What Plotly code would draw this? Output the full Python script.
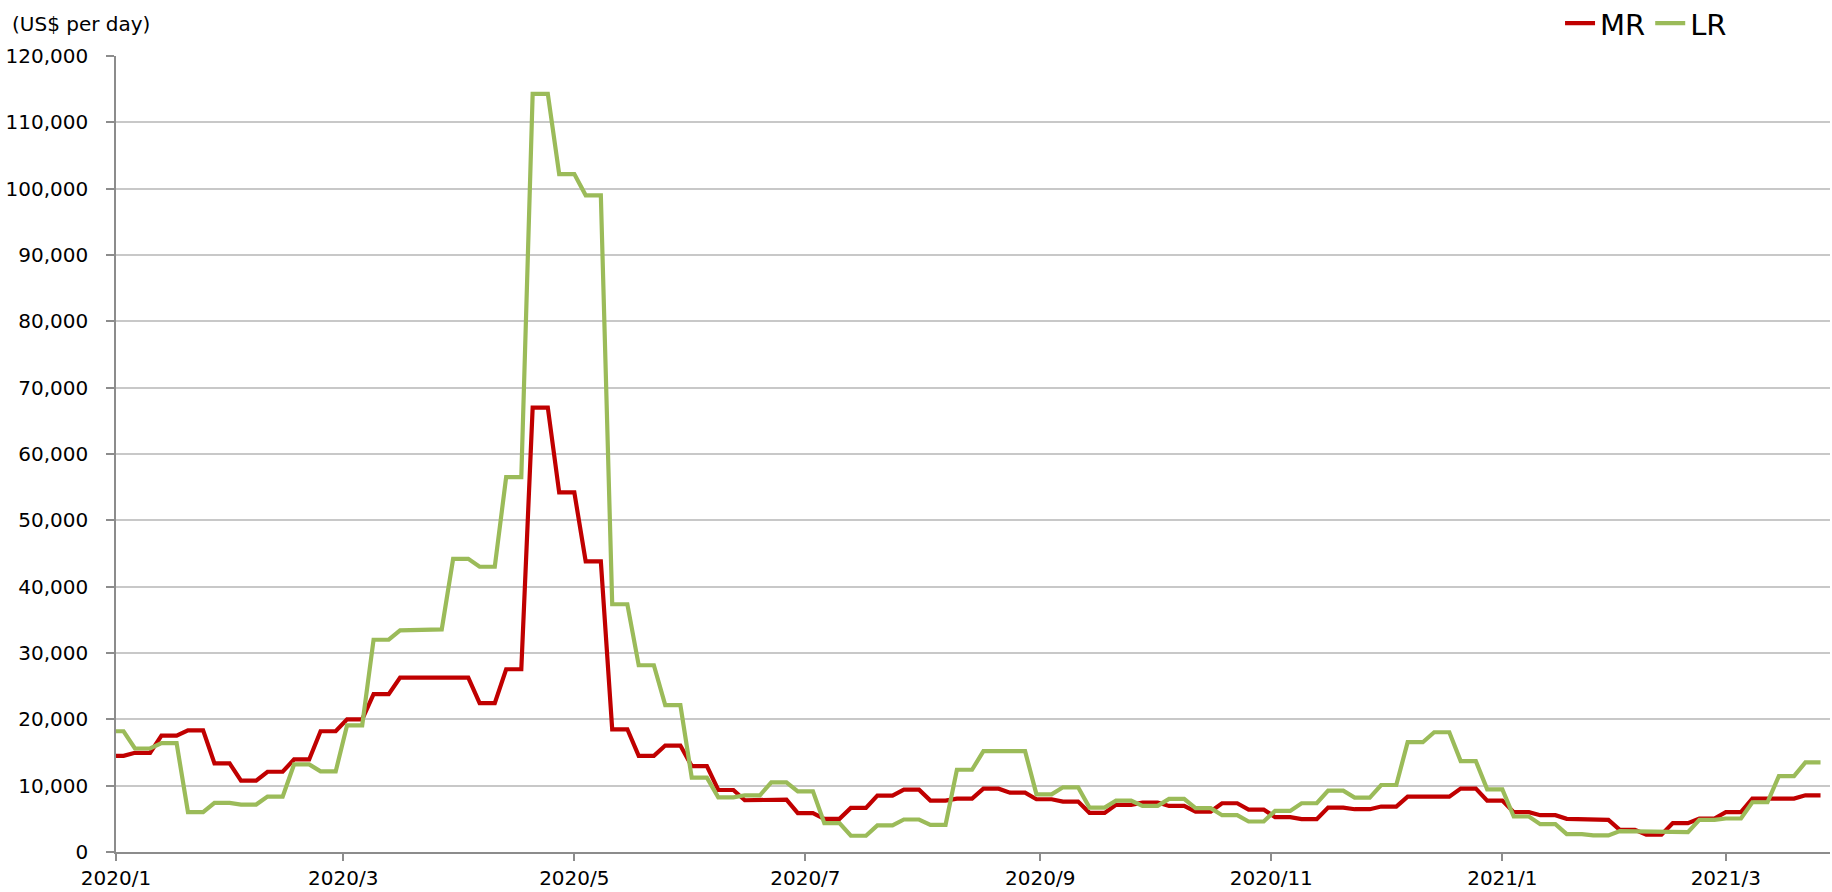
import pandas as pd
import plotly.graph_objects as go

# Weekly charter rates (US$ per day); each value holds Monday-Friday of its week
week0_monday = "2019-12-30"
first_day = "2020-01-01"
last_day = "2021-03-26"

mr = [14500, 14950, 17550, 18350, 13350, 10750, 12100, 13950, 18200, 20000,
      23800, 26300, 26150, 26300, 22450, 27550, 67000, 54200, 43800, 18500,
      14500, 16050, 12950, 9350, 7800, 7900, 5850, 5000, 6650, 8500,
      9400, 7750, 8050, 9550, 8950, 7950, 7600, 5900, 7100, 7450,
      6950, 6100, 7350, 6400, 5250, 4950, 6700, 6450, 6850, 8350,
      8350, 9550, 7750, 6000, 5550, 5000, 4850, 3350, 2600, 4350,
      5050, 6000, 8050, 8050, 8550]

lr = [18200, 15600, 16400, 6000, 7400, 7150, 8350, 13200, 12150, 19100,
      32000, 33400, 33550, 44200, 43000, 56500, 114300, 102200, 99000, 37350,
      28150, 22150, 11200, 8250, 8550, 10500, 9150, 4350, 2450, 4000,
      4900, 4100, 12400, 15200, 15200, 8700, 9750, 6700, 7750, 6950,
      8000, 6600, 5550, 4600, 6200, 7350, 9250, 8200, 10100, 16550,
      18050, 13700, 9450, 5350, 4200, 2700, 2500, 3150, 3000, 3000,
      4850, 5050, 7500, 11450, 13500]

tick_dates = ["2020-01-01", "2020-03-01", "2020-05-01", "2020-07-01",
              "2020-09-01", "2020-11-01", "2021-01-01", "2021-03-01"]
tick_labels = ["2020/1", "2020/3", "2020/5", "2020/7",
               "2020/9", "2020/11", "2021/1", "2021/3"]

series_names = ["MR", "LR"]
series_colors = ["#C00000", "#9BBB59"]

days = pd.bdate_range(first_day, last_day)
week_idx = (days - pd.Timestamp(week0_monday)).days // 7

fig = go.Figure()
for name, vals, col in zip(series_names, [mr, lr], series_colors):
    fig.add_trace(go.Scatter(
        x=days, y=[vals[i] for i in week_idx], name=name, mode="lines",
        line=dict(color=col, width=4.2),
    ))

font_family = "DejaVu Sans, Verdana, sans-serif"

fig.update_layout(
    width=1832, height=892,
    margin=dict(l=116, r=2, t=56, b=40, autoexpand=False),
    paper_bgcolor="white", plot_bgcolor="white",
    font=dict(family=font_family, size=20, color="#000000"),
    showlegend=True,
    legend=dict(orientation="h", x=0.8425, y=1.041, xanchor="left", yanchor="middle",
                font=dict(size=29), bgcolor="rgba(0,0,0,0)", itemwidth=30,
                tracegroupgap=0),
    annotations=[dict(text="(US$ per day)", xref="paper", yref="paper",
                      x=-0.062, y=1.04, xanchor="left", yanchor="middle",
                      showarrow=False, font=dict(size=20))],
)

fig.update_xaxes(
    type="date", range=["2020-01-01", "2021-03-28 12:00"],
    tickmode="array", tickvals=tick_dates, ticktext=tick_labels,
    showgrid=False, showline=True, linecolor="#8c8c8c", linewidth=1.5,
    ticks="outside", ticklen=7, tickcolor="#8c8c8c", tickwidth=1.5,
    zeroline=False, automargin=False,
)
fig.update_yaxes(
    range=[0, 120000], dtick=10000, tickformat=",d",
    showgrid=True, gridcolor="#c8c8c8", gridwidth=1.5,
    showline=True, linecolor="#8c8c8c", linewidth=1.5,
    ticks="outside", ticklen=8, tickcolor="#8c8c8c", tickwidth=1.5,
    ticklabelstandoff=14, zeroline=False, automargin=False,
)

fig.write_html(
    "out.html",
    config={"displayModeBar": False},
    post_script="document.body.style.margin='0px';document.body.style.overflow='hidden';",
)
